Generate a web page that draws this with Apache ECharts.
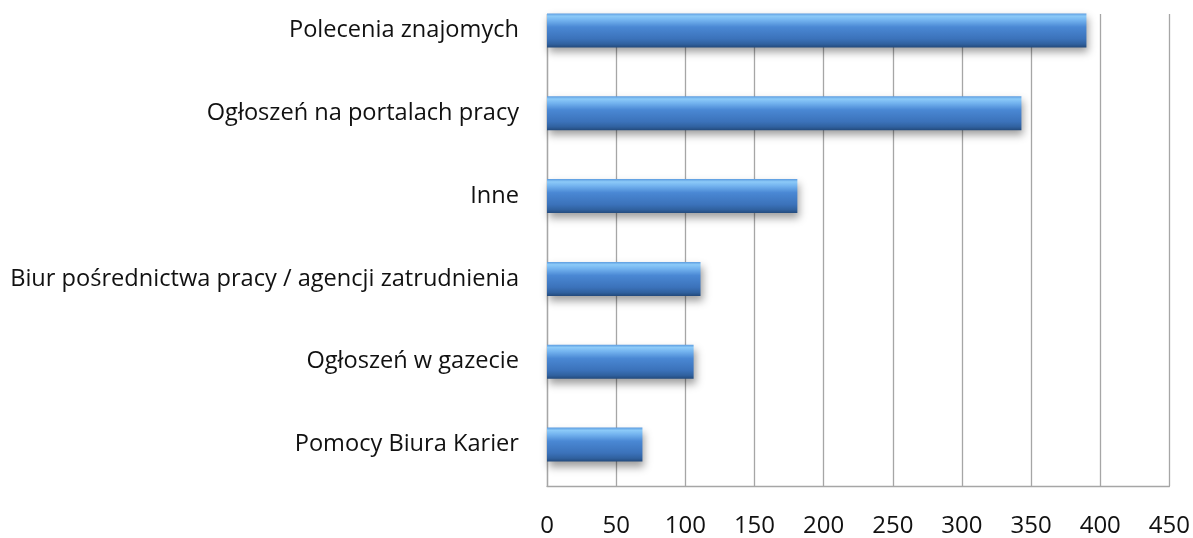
<!DOCTYPE html>
<html>
<head>
<meta charset="utf-8">
<script src="https://cdn.jsdelivr.net/npm/echarts@6/dist/echarts.min.js"></script>
<style>
html,body{margin:0;padding:0;background:#fff;overflow:hidden;}
#c{width:1193px;height:549px;margin-top:-11px;}
</style>
</head>
<body>
<div id="c"></div>
<script>
// Data (bottom-to-top order for the category axis)
var categories = [
  'Pomocy Biura Karier',
  'Ogłoszeń w gazecie',
  'Biur pośrednictwa pracy / agencji zatrudnienia',
  'Inne',
  'Ogłoszeń na portalach pracy',
  'Polecenia znajomych'
];
var values = [69, 106, 111, 181, 343, 390];
var xTicks = [0, 50, 100, 150, 200, 250, 300, 350, 400, 450];

var chart = echarts.init(document.getElementById('c'), null, {renderer: 'canvas'});
var FONT = 'Open Sans';
chart.setOption({
  animation: false,
  backgroundColor: '#ffffff',
  grid: {left: 547, right: 23, top: 0, bottom: 50, containLabel: false},
  xAxis: {
    type: 'value',
    min: xTicks[0],
    max: xTicks[xTicks.length - 1],
    interval: 50,
    axisLine: {show: true, lineStyle: {color: '#a6a6a6', width: 1.3}},
    axisTick: {show: false},
    splitLine: {show: true, lineStyle: {color: '#a6a6a6', width: 1.3}},
    axisLabel: {color: '#111', fontFamily: FONT, fontSize: 24, margin: 28}
  },
  yAxis: {
    type: 'category',
    data: categories,
    axisLine: {show: true, lineStyle: {color: '#a6a6a6', width: 1.3}},
    axisTick: {show: false},
    axisLabel: {color: '#111', fontFamily: FONT, fontSize: 23.6, margin: 28}
  },
  graphic: [{
    type: 'rect',
    z: 1,
    shape: {x: 540, y: 0, width: 653, height: 25},
    style: {fill: '#ffffff'}
  }],
  series: [{
    type: 'bar',
    data: values,
    barWidth: '41%',
    z: 3,
    itemStyle: {
      color: new echarts.graphic.LinearGradient(0, 0, 0, 1, [
        {offset: 0, color: '#5c9ce0'},
        {offset: 0.08, color: '#8ccaf8'},
        {offset: 0.2, color: '#73b3ef'},
        {offset: 0.4, color: '#4a88d4'},
        {offset: 0.75, color: '#3b72ba'},
        {offset: 0.9, color: '#30619f'},
        {offset: 1, color: '#234a7c'}
      ]),
      shadowColor: 'rgba(0,0,0,0.38)',
      shadowBlur: 8,
      shadowOffsetX: 2,
      shadowOffsetY: 5
    }
  }]
});
</script>
</body>
</html>
